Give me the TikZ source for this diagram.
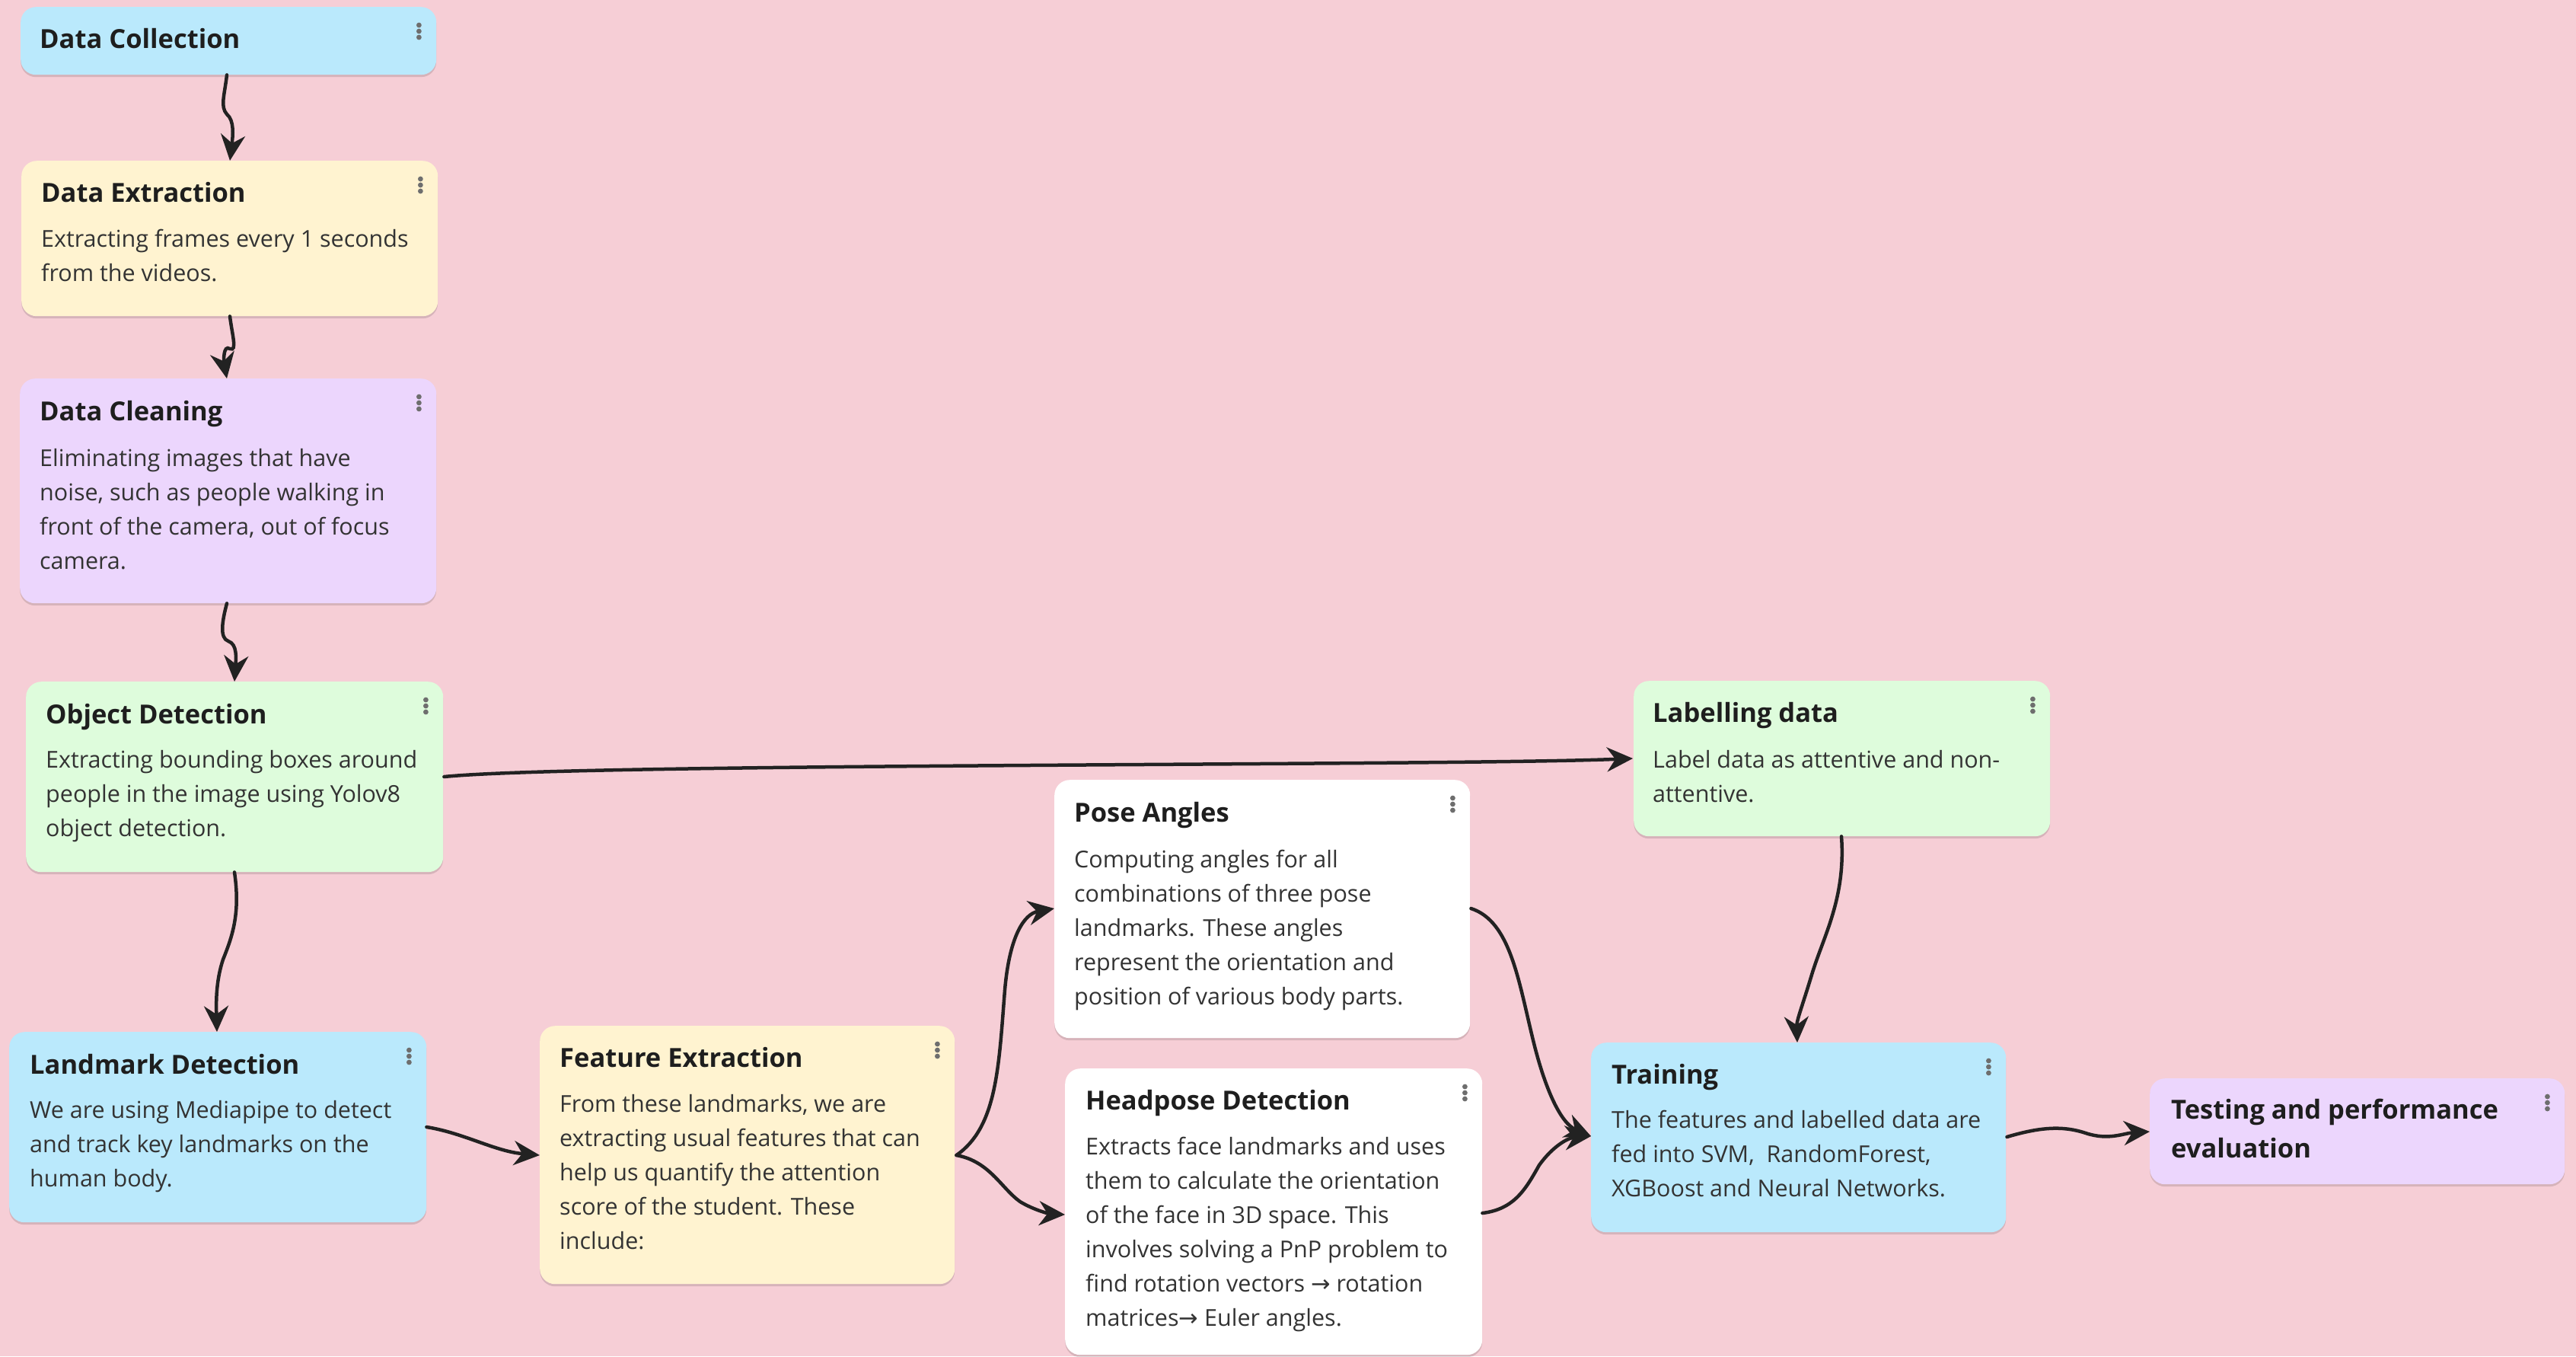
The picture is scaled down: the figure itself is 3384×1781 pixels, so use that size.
\documentclass[tikz,border=0pt]{standalone}
\usepackage{fontspec}
\setmainfont{Open Sans}
\newfontfamily\arrfont{DejaVu Sans}
\usetikzlibrary{arrows.meta,calc,shadows}
\definecolor{bgpink}{HTML}{F6CED6}
\definecolor{cblue}{HTML}{BAE9FC}
\definecolor{cyellow}{HTML}{FFF3D0}
\definecolor{cpurple}{HTML}{ECD6FD}
\definecolor{cgreen}{HTML}{DEFCDC}
\definecolor{cwhite}{HTML}{FFFFFF}
\definecolor{ink}{HTML}{1E1E1E}
\definecolor{bodyink}{HTML}{333333}
\definecolor{dotgray}{HTML}{6E6E6E}
\definecolor{linkink}{HTML}{222222}
\newcommand\rarr{{\arrfont →}}
\begin{document}
\begin{tikzpicture}[x=1pt,y=-1pt,
  card/.style={fill=#1, rounded corners=20pt, anchor=north west, inner sep=0pt,
    drop shadow={shadow xshift=0pt, shadow yshift=-3pt, opacity=0.13, fill=black}},
  ttl/.style={anchor=base west, inner sep=0pt, text=ink, align=left,
    font=\fontsize{34.5}{51}\selectfont\bfseries},
  bdy/.style={anchor=base west, inner sep=0pt, text=bodyink, align=left,
    font=\fontsize{30.5}{45}\selectfont},
  link/.style={draw=linkink, line width=4.5pt, line cap=round,
    -{Stealth[length=34pt, width=32pt, inset=11pt]}}
]
\newcommand\kebab[1]{%
  \foreach \dy in {24,32,40}{\fill[dotgray] ($(#1.north east)+(-23,\dy)$) circle[radius=3.4pt];}}
\fill[bgpink] (0,0) rectangle (3384,1781);
\useasboundingbox (0,0) rectangle (3384,1781);

% cards
\node[card=cblue,   minimum width=546pt, minimum height=89pt]  (dc)  at (27,9) {};
\node[card=cyellow, minimum width=547pt, minimum height=204pt] (de)  at (28,211) {};
\node[card=cpurple, minimum width=547pt, minimum height=295pt] (dcl) at (26,497) {};
\node[card=cgreen,  minimum width=548pt, minimum height=250pt] (od)  at (34,895) {};
\node[card=cblue,   minimum width=548pt, minimum height=250pt] (ld)  at (12,1355) {};
\node[card=cyellow, minimum width=545pt, minimum height=339pt] (fe)  at (709,1347) {};
\node[card=cwhite,  minimum width=546pt, minimum height=339pt] (pa)  at (1385,1024) {};
\node[card=cwhite,  minimum width=548pt, minimum height=376pt] (hd)  at (1399,1403) {};
\node[card=cgreen,  minimum width=547pt, minimum height=204pt] (lb)  at (2146,894) {};
\node[card=cblue,   minimum width=545pt, minimum height=249pt] (tr)  at (2090,1369) {};
\node[card=cpurple, minimum width=545pt, minimum height=139pt] (te)  at (2824,1416) {};

\foreach \n in {dc,de,dcl,od,ld,fe,pa,hd,lb,tr,te}{\kebab{\n}}

% titles (anchor = baseline of last line)
\node[ttl] (dc-t)  at ($(dc.north west)+(25,54)$)  {Data Collection};
\node[ttl] (de-t)  at ($(de.north west)+(26,54)$)  {Data Extraction};
\node[ttl] (dcl-t) at ($(dcl.north west)+(26,55)$) {Data Cleaning};
\node[ttl] (od-t)  at ($(od.north west)+(26,55)$)  {Object Detection};
\node[ttl] (ld-t)  at ($(ld.north west)+(27,55)$)  {Landmark Detection};
\node[ttl] (fe-t)  at ($(fe.north west)+(26,54)$)  {Feature Extraction};
\node[ttl] (pa-t)  at ($(pa.north west)+(26,55)$)  {Pose Angles};
\node[ttl] (hd-t)  at ($(hd.north west)+(27,54)$)  {Headpose Detection};
\node[ttl] (lb-t)  at ($(lb.north west)+(25,54)$)  {Labelling data};
\node[ttl] (tr-t)  at ($(tr.north west)+(27,54)$)  {Training};
\node[ttl] (te-t)  at ($(te.north west)+(28,104)$) {Testing and performance\\evaluation};

% bodies (anchor = baseline of last line; first line at +113, step 45)
\node[bdy] (de-b)  at ($(de.north west)+(26,158)$)  {Extracting frames every 1 seconds\\from the videos.};
\node[bdy] (dcl-b) at ($(dcl.north west)+(26,250)$) {Eliminating images that have\\noise, such as people walking in\\front of the camera, out of focus\\camera.};
\node[bdy] (od-b)  at ($(od.north west)+(26,203)$)  {Extracting bounding boxes around\\people in the image using Yolov8\\object detection.};
\node[bdy] (ld-b)  at ($(ld.north west)+(27,203)$)  {We are using Mediapipe to detect\\and track key landmarks on the\\human body.};
\node[bdy] (fe-b)  at ($(fe.north west)+(26,293)$)  {From these landmarks, we are\\extracting usual features that can\\help us quantify the attention\\score of the student. These\\include:};
\node[bdy] (pa-b)  at ($(pa.north west)+(26,295)$)  {Computing angles for all\\combinations of three pose\\landmarks. These angles\\represent the orientation and\\position of various body parts.};
\node[bdy] (hd-b)  at ($(hd.north west)+(27,338)$)  {Extracts face landmarks and uses\\them to calculate the orientation\\of the face in 3D space. This\\involves solving a PnP problem to\\find rotation vectors \rarr{} rotation\\matrices\rarr{} Euler angles.};
\node[bdy] (lb-b)  at ($(lb.north west)+(25,159)$)  {Label data as attentive and non-\\attentive.};
\node[bdy] (tr-b)  at ($(tr.north west)+(27,202)$)  {The features and labelled data are\\fed into SVM,\ \ RandomForest,\\XGBoost and Neural Networks.};

% connectors
\draw[link] ($(dc.south west)+(271,0)$) .. controls (295,125) and (289,140) .. (298,150)
  .. controls (308,158) and (306,178) .. ($(de.north west)+(274,0)$);
\draw[link] ($(de.south west)+(274,0)$) .. controls (305,440) and (312,462) .. (302,458)
  .. controls (293,452) and (294,475) .. ($(dcl.north west)+(272,0)$);
\draw[link] ($(dcl.south west)+(272,0)$) .. controls (292,815) and (288,838) .. (300,842)
  .. controls (312,846) and (310,865) .. ($(od.north west)+(274,0)$);
\draw[link] ($(od.south west)+(274,0)$) .. controls (316,1200) and (305,1230) .. (293,1260)
  .. controls (283,1290) and (284,1320) .. ($(ld.north west)+(273,0)$);
\draw[link] ($(od.north east)+(1,125)$) .. controls (760,1002) and (1900,1006) .. ($(lb.north west)+(-1,102)$);
\draw[link] ($(ld.north east)+(0,125)$) .. controls (610,1488) and (650,1512) .. ($(fe.north west)+(0,170)$);
\draw[link] ($(fe.north east)+(2,170)$) .. controls (1310,1480) and (1312,1400) .. (1320,1300)
  .. controls (1326,1230) and (1345,1200) .. ($(pa.north west)+(0,169)$);
\draw[link] ($(fe.north east)+(2,170)$) .. controls (1300,1525) and (1315,1560) .. (1340,1578)
  .. controls (1360,1590) and (1380,1594) .. ($(hd.north west)+(0,192)$);
\draw[link] ($(pa.north east)+(1,169)$) .. controls (1985,1210) and (1995,1290) .. (2015,1370)
  .. controls (2030,1430) and (2050,1475) .. ($(tr.north west)+(0,123)$);
\draw[link] ($(hd.north east)+(0,190)$) .. controls (1990,1588) and (2005,1560) .. (2022,1530)
  .. controls (2040,1505) and (2060,1494) .. ($(tr.north west)+(0,123)$);
\draw[link] ($(lb.south west)+(273,0)$) .. controls (2425,1180) and (2395,1230) .. (2380,1280)
  .. controls (2368,1320) and (2360,1340) .. ($(tr.north west)+(271,0)$);
\draw[link] ($(tr.north east)+(1,124)$) .. controls (2680,1480) and (2710,1478) .. (2740,1488)
  .. controls (2770,1498) and (2790,1488) .. ($(te.north west)+(0,70)$);
\end{tikzpicture}
\end{document}
